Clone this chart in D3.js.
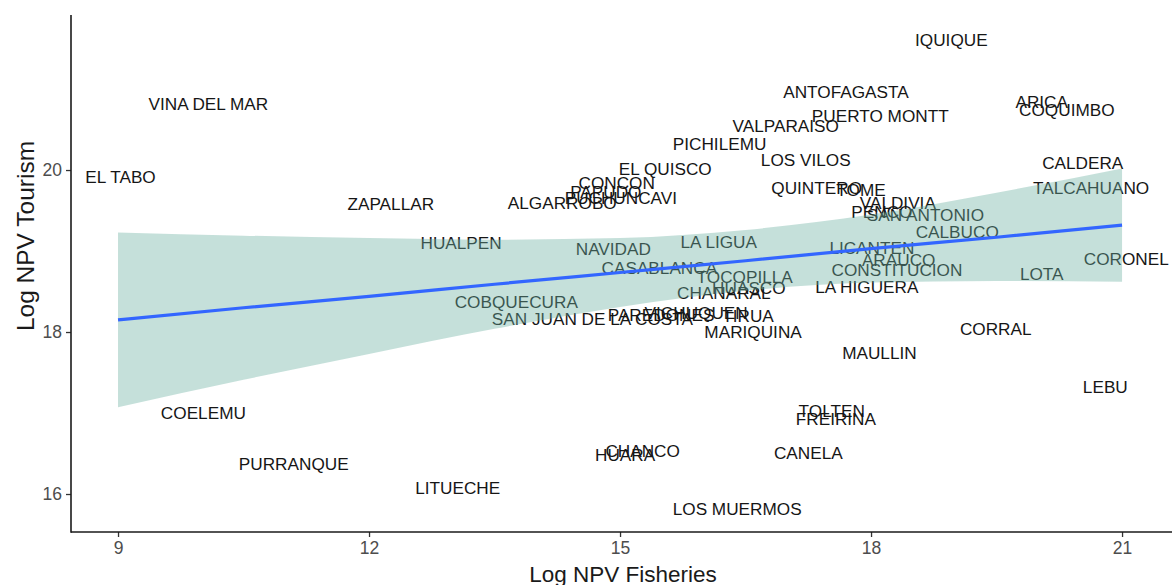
<!DOCTYPE html>
<html>
<head>
<meta charset="utf-8">
<script src="https://cdn.jsdelivr.net/npm/d3@7"></script>
<style>
  html, body { margin: 0; padding: 0; background: #ffffff; }
  svg { display: block; }
</style>
</head>
<body>
<svg id="chart" width="1172" height="585"></svg>
<script>
// ---- data ----
const communes = [
  "IQUIQUE","ANTOFAGASTA","PUERTO MONTT","VALPARAISO","PICHILEMU","LOS VILOS","EL QUISCO",
  "CONCON","PAPUDO","PUCHUNCAVI","ALGARROBO","ZAPALLAR","VINA DEL MAR","EL TABO",
  "QUINTERO","TOME","VALDIVIA","PENCO","SAN ANTONIO","CALBUCO","LICANTEN","ARAUCO",
  "CONSTITUCION","LA HIGUERA","ARICA","COQUIMBO","CALDERA","TALCAHUANO","CORONEL","LOTA",
  "HUALPEN","NAVIDAD","LA LIGUA","CASABLANCA","TOCOPILLA","HUASCO","CHANARAL",
  "COBQUECURA","SAN JUAN DE LA COSTA","PAREDONES","VICHUQUEN","TIRUA","MARIQUINA",
  "CORRAL","MAULLIN","LEBU","TOLTEN","FREIRINA","CANELA","HUARA","CHANCO",
  "LOS MUERMOS","LITUECHE","PURRANQUE","COELEMU"
];
const logNpvFisheries = [
  18.96,17.70,18.11,16.98,16.19,17.22,15.54,
  14.96,14.83,15.01,14.31,12.26,10.08,9.03,
  17.35,17.88,18.32,18.13,18.65,19.03,18.01,18.33,
  18.31,17.95,20.04,20.34,20.53,20.63,21.05,20.04,
  13.10,14.92,16.18,15.47,16.49,16.54,16.24,
  13.76,14.67,15.49,15.91,16.53,16.59,
  19.49,18.10,20.80,17.53,17.58,17.25,15.06,15.27,
  16.40,13.06,11.10,10.02
];
const logNpvTourism = [
  21.60,20.96,20.67,20.54,20.32,20.12,20.01,
  19.84,19.73,19.65,19.59,19.58,20.81,19.91,
  19.78,19.75,19.59,19.48,19.44,19.23,19.04,18.89,
  18.77,18.56,20.84,20.74,20.09,19.78,18.90,18.72,
  19.10,19.02,19.11,18.79,18.68,18.54,18.48,
  18.37,18.16,18.21,18.23,18.20,18.00,
  18.04,17.74,17.32,17.02,16.93,16.51,16.48,16.53,
  15.81,16.07,16.37,17.00
];

// linear fit with confidence band
const smoothX     = [9, 10.5, 12, 13.5, 15, 16.5, 18, 19.5, 21];
const smoothFit   = [18.15, 18.30, 18.44, 18.59, 18.735, 18.88, 19.03, 19.17, 19.32];
const smoothLower = [17.07, 17.41, 17.73, 18.04, 18.31, 18.51, 18.61, 18.63, 18.62];
const smoothUpper = [19.23, 19.19, 19.16, 19.14, 19.16, 19.26, 19.45, 19.72, 20.02];

const xTicks = [9, 12, 15, 18, 21];
const yTicks = [16, 18, 20];
const xTitle = "Log NPV Fisheries";
const yTitle = "Log NPV Tourism";

// ---- layout ----
const panel = { left: 71, right: 1172, top: 15, bottom: 532 };
const FONT = "'Liberation Sans', Arial, Helvetica, sans-serif";

const svg = d3.select("#chart");

const x = d3.scaleLinear().domain([8.438, 21.597]).range([panel.left, panel.right]);
const y = d3.scaleLinear().domain([15.531, 21.914]).range([panel.bottom, panel.top]);

const points = communes.map((name, i) => ({ name, fx: logNpvFisheries[i], ty: logNpvTourism[i] }));
const band = smoothX.map((v, i) => ({ x: v, fit: smoothFit[i], lo: smoothLower[i], hi: smoothUpper[i] }));

const plot = svg.append("g");

// text labels (drawn first, the smoothing band is layered over them)
plot.append("g")
  .selectAll("text")
  .data(points)
  .join("text")
  .attr("x", d => x(d.fx))
  .attr("y", d => y(d.ty))
  .attr("text-anchor", "middle")
  .attr("dominant-baseline", "central")
  .attr("font-family", FONT)
  .attr("font-size", 17.2)
  .attr("fill", "#161616")
  .text(d => d.name);

// confidence ribbon
const area = d3.area()
  .x(d => x(d.x))
  .y0(d => y(d.lo))
  .y1(d => y(d.hi))
  .curve(d3.curveMonotoneX);
plot.append("path")
  .datum(band)
  .attr("d", area)
  .attr("fill", "#6eb1a2")
  .attr("fill-opacity", 0.4);

// fitted line
const line = d3.line()
  .x(d => x(d.x))
  .y(d => y(d.fit))
  .curve(d3.curveMonotoneX);
plot.append("path")
  .datum(band)
  .attr("d", line)
  .attr("fill", "none")
  .attr("stroke", "#3366FF")
  .attr("stroke-width", 3.2);

// ---- axes ----
const xAxis = d3.axisBottom(x).tickValues(xTicks).tickFormat(d3.format("d"))
  .tickSize(5).tickPadding(5).tickSizeOuter(0);
const yAxis = d3.axisLeft(y).tickValues(yTicks).tickFormat(d3.format("d"))
  .tickSize(5).tickPadding(4).tickSizeOuter(0);

const gx = svg.append("g").attr("transform", `translate(0,${panel.bottom})`).call(xAxis);
const gy = svg.append("g").attr("transform", `translate(${panel.left},0)`).call(yAxis);

[gx, gy].forEach(g => {
  g.select(".domain").remove();
  g.selectAll(".tick line").attr("stroke", "#333333").attr("stroke-width", 1.3);
  g.selectAll(".tick text")
    .attr("font-family", FONT)
    .attr("font-size", 17.5)
    .attr("fill", "#4d4d4d");
});

// axis lines (theme_classic)
svg.append("line")
  .attr("x1", panel.left).attr("x2", panel.right)
  .attr("y1", panel.bottom).attr("y2", panel.bottom)
  .attr("stroke", "#1a1a1a").attr("stroke-width", 1.6);
svg.append("line")
  .attr("x1", panel.left).attr("x2", panel.left)
  .attr("y1", panel.top).attr("y2", panel.bottom + 0.8)
  .attr("stroke", "#1a1a1a").attr("stroke-width", 1.6);

// axis titles
svg.append("text")
  .attr("x", 623)
  .attr("y", 574)
  .attr("text-anchor", "middle")
  .attr("dominant-baseline", "central")
  .attr("font-family", FONT)
  .attr("font-size", 22.5)
  .attr("fill", "#1a1a1a")
  .text(xTitle);

svg.append("text")
  .attr("transform", "translate(25,236) rotate(-90)")
  .attr("text-anchor", "middle")
  .attr("dominant-baseline", "central")
  .attr("font-family", FONT)
  .attr("font-size", 24.5)
  .attr("fill", "#1a1a1a")
  .text(yTitle);
</script>
</body>
</html>
